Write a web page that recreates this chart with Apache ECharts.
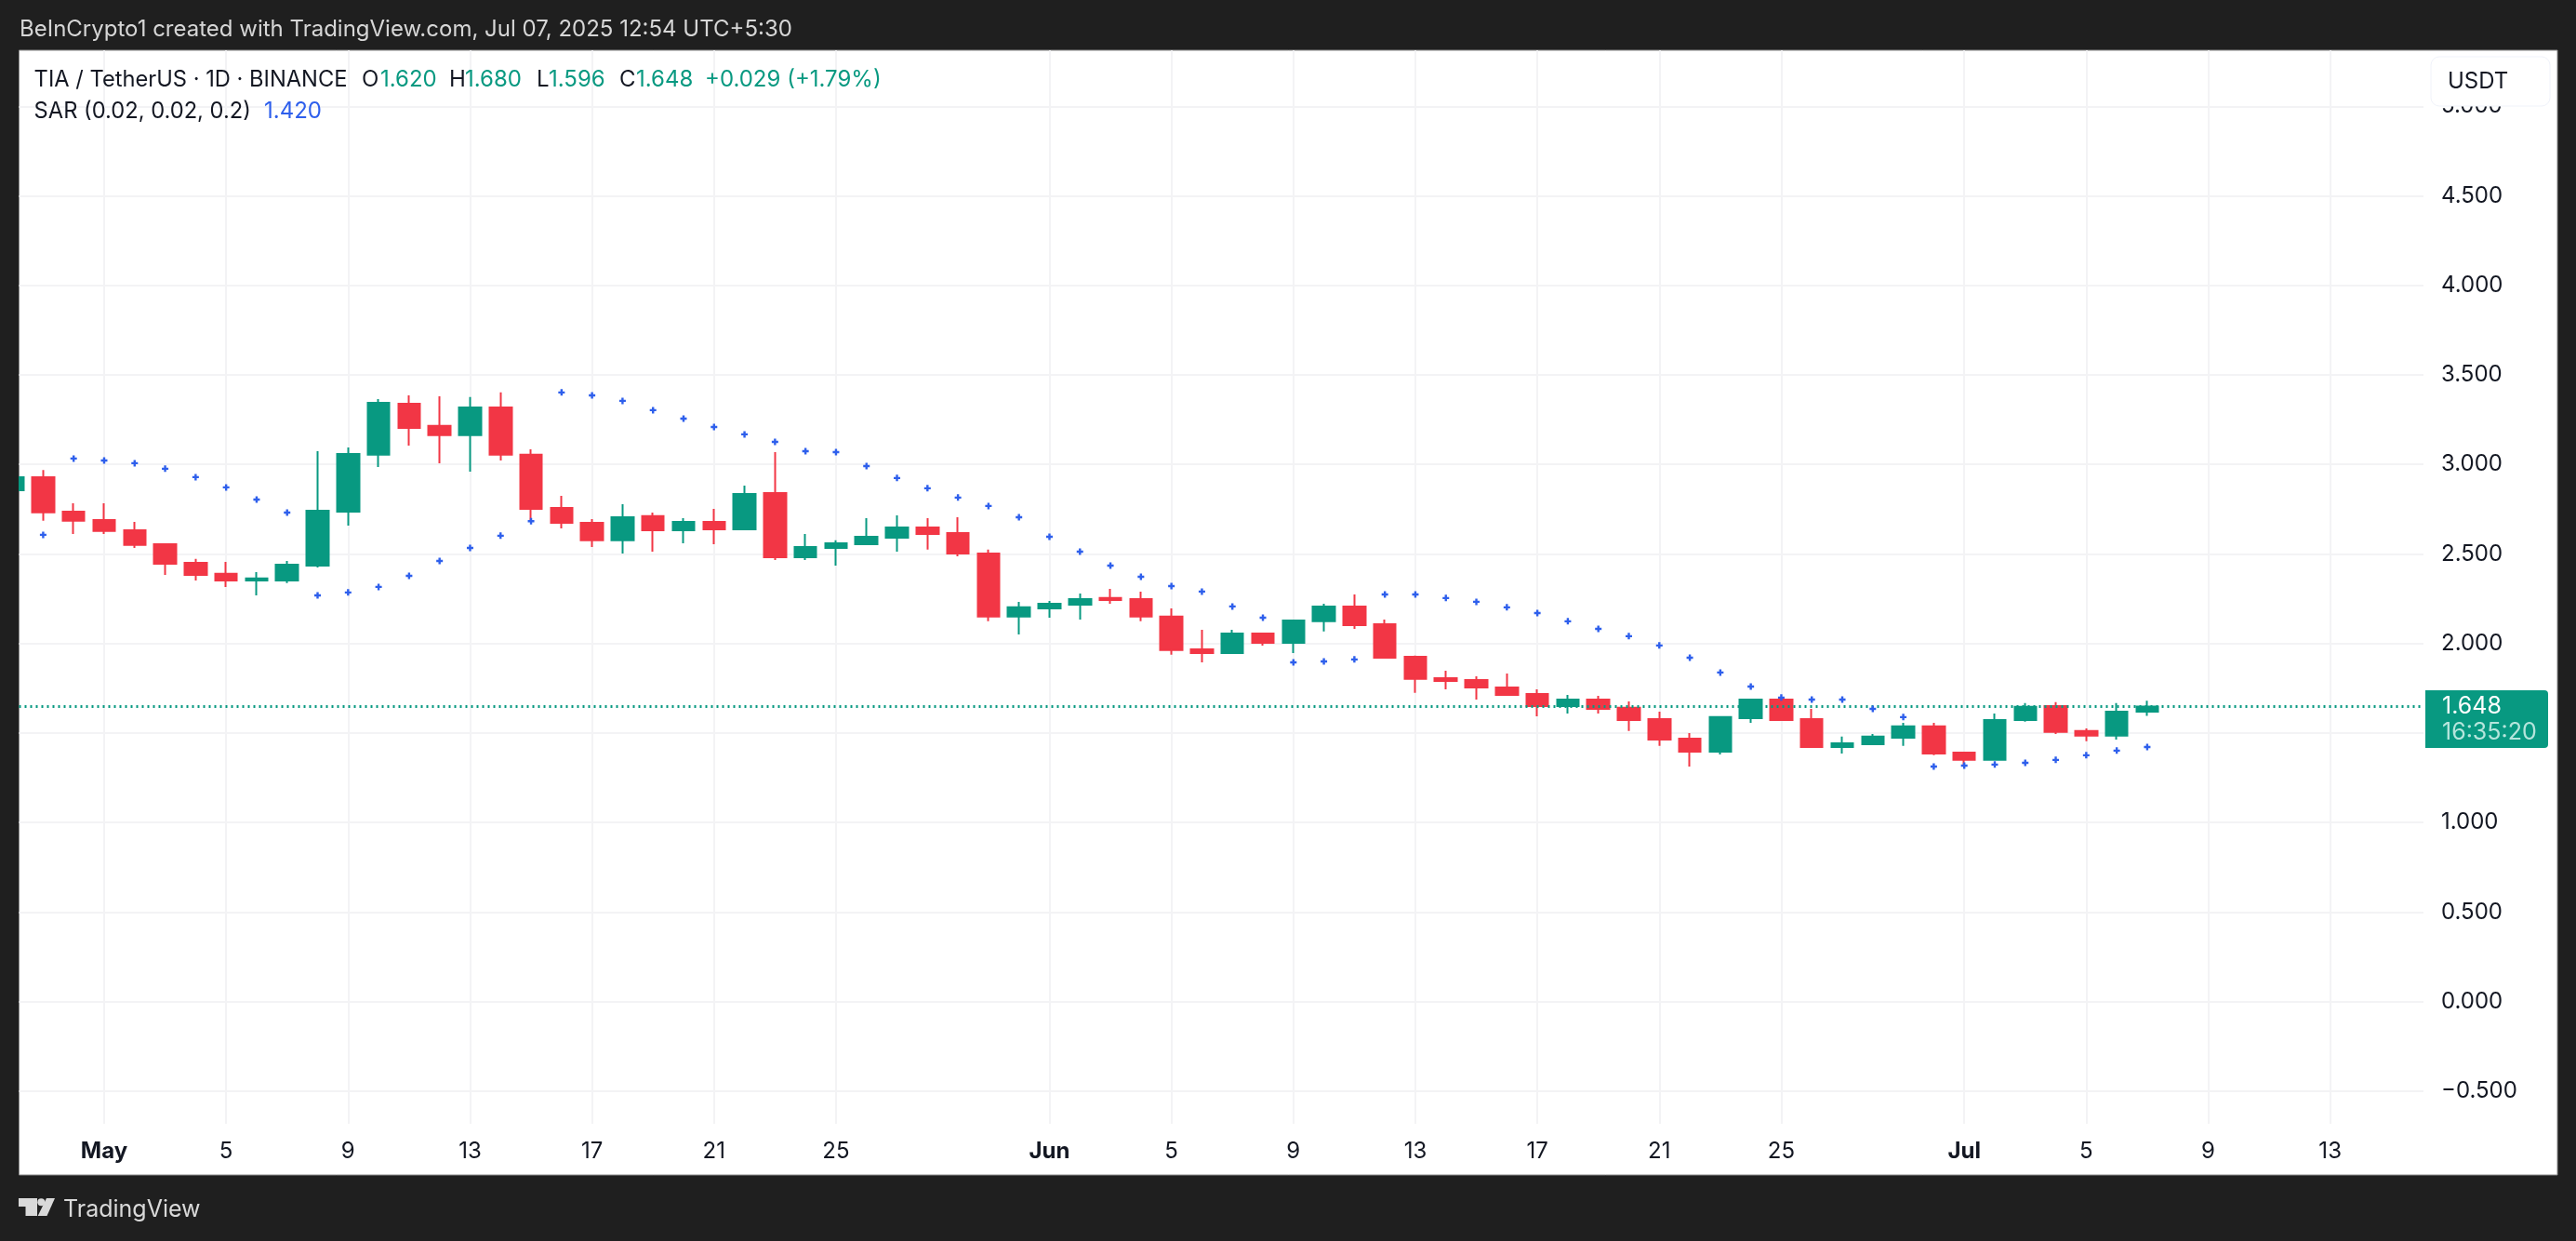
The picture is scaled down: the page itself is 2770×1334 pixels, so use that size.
<!DOCTYPE html>
<html>
<head>
    <meta charset="utf-8">
    <title>TIA / TetherUS</title>
    <script src="https://cdn.jsdelivr.net/npm/echarts@6/dist/echarts.min.js"></script>
    <style>
        html, body { margin: 0; padding: 0; background: #1f1f1f; }
    </style>
</head>
<body>
<div id="main" style="width: 2770px;height:1334px;"></div>
<script type="text/javascript">

    // day number counted from May 1
    let days = [];
    for (let d = -3; d <= 67; d++) days.push(d);

    // one row per day, Apr 28 .. Jul 7
    let opens = [2.856, 2.929, 2.736, 2.690, 2.633, 2.555, 2.451, 2.389, 2.352, 2.352, 2.435, 2.736, 3.054, 3.339, 3.215, 3.163, 3.318, 3.054, 2.757, 2.674, 2.576, 2.711, 2.633, 2.679, 2.638, 2.840, 2.482, 2.534, 2.555, 2.591, 2.648, 2.617, 2.503, 2.150, 2.196, 2.217, 2.254, 2.248, 2.150, 1.968, 1.947, 2.056, 2.004, 2.124, 2.207, 2.108, 1.926, 1.807, 1.796, 1.755, 1.718, 1.651, 1.687, 1.641, 1.578, 1.469, 1.396, 1.583, 1.687, 1.578, 1.422, 1.438, 1.474, 1.537, 1.391, 1.350, 1.573, 1.651, 1.511, 1.485, 1.620];
    let closes = [2.929, 2.733, 2.685, 2.628, 2.550, 2.446, 2.383, 2.352, 2.363, 2.440, 2.742, 3.059, 3.344, 3.204, 3.163, 3.318, 3.054, 2.752, 2.674, 2.576, 2.705, 2.633, 2.679, 2.638, 2.835, 2.482, 2.539, 2.560, 2.596, 2.648, 2.612, 2.503, 2.150, 2.202, 2.222, 2.248, 2.243, 2.150, 1.963, 1.947, 2.056, 2.004, 2.129, 2.207, 2.103, 1.921, 1.802, 1.791, 1.755, 1.713, 1.651, 1.687, 1.635, 1.573, 1.464, 1.396, 1.589, 1.687, 1.573, 1.422, 1.443, 1.480, 1.537, 1.386, 1.350, 1.573, 1.646, 1.506, 1.485, 1.620, 1.648];
    let lows = [2.850, 2.685, 2.612, 2.612, 2.534, 2.383, 2.352, 2.316, 2.269, 2.337, 2.425, 2.659, 2.986, 3.105, 3.007, 2.960, 3.022, 2.685, 2.643, 2.539, 2.503, 2.513, 2.560, 2.555, 2.638, 2.466, 2.466, 2.435, 2.550, 2.513, 2.524, 2.487, 2.124, 2.051, 2.144, 2.134, 2.222, 2.124, 1.937, 1.895, 1.947, 1.988, 1.947, 2.067, 2.082, 1.921, 1.724, 1.744, 1.687, 1.713, 1.594, 1.609, 1.609, 1.511, 1.428, 1.313, 1.381, 1.557, 1.573, 1.422, 1.386, 1.433, 1.428, 1.376, 1.318, 1.345, 1.563, 1.495, 1.454, 1.464, 1.596];
    let highs = [2.940, 2.969, 2.783, 2.783, 2.679, 2.560, 2.472, 2.456, 2.399, 2.461, 3.074, 3.095, 3.365, 3.386, 3.381, 3.376, 3.402, 3.085, 2.825, 2.695, 2.778, 2.731, 2.700, 2.752, 2.882, 3.069, 2.612, 2.576, 2.700, 2.716, 2.700, 2.705, 2.524, 2.233, 2.238, 2.279, 2.305, 2.290, 2.196, 2.077, 2.077, 2.061, 2.134, 2.222, 2.274, 2.134, 1.932, 1.848, 1.817, 1.833, 1.744, 1.713, 1.708, 1.677, 1.620, 1.500, 1.594, 1.690, 1.698, 1.635, 1.480, 1.495, 1.557, 1.557, 1.396, 1.609, 1.667, 1.672, 1.526, 1.667, 1.680];

    // parabolic SAR, Apr 29 .. Jul 7
    let sarDays = [];
    for (let d = -2; d <= 67; d++) sarDays.push(d);
    let sarValues = [2.607, 3.033, 3.022, 3.007, 2.976, 2.929, 2.872, 2.804, 2.731, 2.269, 2.285, 2.316, 2.378, 2.461, 2.534, 2.602, 2.683, 3.402, 3.386, 3.355, 3.303, 3.256, 3.209, 3.168, 3.126, 3.074, 3.069, 2.991, 2.924, 2.867, 2.815, 2.768, 2.705, 2.596, 2.513, 2.435, 2.373, 2.321, 2.290, 2.207, 2.144, 1.895, 1.900, 1.911, 2.274, 2.274, 2.254, 2.233, 2.202, 2.170, 2.124, 2.082, 2.041, 1.989, 1.921, 1.838, 1.760, 1.698, 1.687, 1.687, 1.635, 1.589, 1.313, 1.318, 1.324, 1.334, 1.350, 1.376, 1.402, 1.422];

    // axis ticks
    let xTickDays = [0, 4, 8, 12, 16, 20, 24, 31, 35, 39, 43, 47, 51, 55, 61, 65, 69, 73];
    let xTickLabels = ['May', '5', '9', '13', '17', '21', '25', 'Jun', '5', '9', '13', '17', '21', '25', 'Jul', '5', '9', '13'];
    let yTicks = [-0.5, 0, 0.5, 1, 1.5, 2, 2.5, 3, 3.5, 4, 4.5, 5];

    let lastPrice = 1.648;

    let green = '#089981';
    let red = '#F23645';
    let blue = '#2E5FEC';
    let font = 'Inter';

    function txt(x, y, text, color, size, weight, fontFamily) {
        return {
            type: 'text',
            z: 60,
            x: x,
            y: y,
            style: {
                text: text,
                fill: color,
                font: (weight || 'normal') + ' ' + (size || 24) + 'px ' + (fontFamily || font),
                verticalAlign: 'middle'
            }
        };
    }

    option = {
        backgroundColor: '#1f1f1f',
        animation: false,
        grid: { left: 20.5, top: 54, right: 164, bottom: 126 },
        xAxis: {
            type: 'value',
            min: -2.79,
            max: 76.06,
            axisLine: { show: false },
            axisTick: { show: false, customValues: xTickDays },
            splitLine: { show: true, lineStyle: { color: '#f3f3f5', width: 2 } },
            axisLabel: {
                customValues: xTickDays,
                margin: 18,
                fontFamily: font,
                fontSize: 24,
                color: '#131722',
                hideOverlap: false,
                showMinLabel: true,
                showMaxLabel: true,
                formatter: function (v) {
                    let s = xTickLabels[xTickDays.indexOf(v)];
                    return isNaN(+s) ? '{m|' + s + '}' : s;
                },
                rich: { m: { fontFamily: font, fontSize: 24, fontWeight: 'bold', color: '#131722' } }
            }
        },
        yAxis: {
            type: 'value',
            position: 'right',
            min: -0.682,
            max: 5.313,
            axisLine: { show: false },
            axisTick: { show: false, customValues: yTicks },
            splitLine: { show: true, lineStyle: { color: '#f3f3f5', width: 2 } },
            axisLabel: {
                customValues: yTicks,
                margin: 19,
                fontFamily: font,
                fontSize: 24,
                color: '#131722',
                formatter: function (v) {
                    return (v < 0 ? '\u2212' : '') + Math.abs(v).toFixed(3);
                }
            }
        },
        series: [
            {
                name: 'TIA',
                type: 'candlestick',
                barWidth: 24,
                itemStyle: {
                    color: green,
                    color0: red,
                    borderColor: green,
                    borderColor0: red,
                    borderWidth: 2
                },
                data: days.map(function (d, i) {
                    return [d, opens[i], closes[i], lows[i], highs[i]];
                }),
                markLine: {
                    silent: true,
                    symbol: 'none',
                    label: { show: false },
                    lineStyle: { color: green, width: 3, type: [2, 4], opacity: 1 },
                    data: [{ yAxis: lastPrice }]
                }
            },
            {
                name: 'SAR',
                type: 'scatter',
                symbol: 'path://M2.3 0H4.7V2.3H7V4.7H4.7V7H2.3V4.7H0V2.3H2.3Z',
                symbolSize: 7,
                itemStyle: { color: blue, opacity: 1 },
                z: 5,
                data: sarDays.map(function (d, i) {
                    return [d, sarValues[i]];
                })
            }
        ],
        graphic: [
            // white panel behind the grid
            { type: 'rect', z: -10, silent: true, shape: { x: 20.5, y: 54, width: 2729.5, height: 1209 }, style: { fill: '#ffffff', stroke: '#8c8c8c', lineWidth: 1 } },
            // left edge, hides the part of the first candle outside the panel
            { type: 'rect', z: 50, silent: true, shape: { x: 0, y: 54, width: 20, height: 1209 }, style: { fill: '#1f1f1f' } },
            // top bar
            txt(21, 32, 'BeInCrypto1 created with TradingView.com, Jul 07, 2025 12:54 UTC+5:30', '#d6d6d6', 24),
            // legend
            txt(36.6, 86, 'TIA / TetherUS \u00b7 1D \u00b7 BINANCE', '#131722', 23.7),
            txt(389, 86, 'O', '#131722'), txt(409, 86, '1.620', green),
            txt(483, 86, 'H', '#131722'), txt(500, 86, '1.680', green),
            txt(577, 86, 'L', '#131722'), txt(590, 86, '1.596', green),
            txt(666, 86, 'C', '#131722'), txt(684, 86, '1.648', green),
            txt(758, 86, '+0.029 (+1.79%)', green),
            txt(36.6, 120, 'SAR (0.02, 0.02, 0.2)', '#131722', 23.7),
            txt(284, 120, '1.420', blue),
            // currency button
            { type: 'rect', z: 55, silent: true, shape: { x: 2614, y: 61, width: 128, height: 53, r: 9 }, style: { fill: '#ffffff', stroke: '#f0f3fa', lineWidth: 1 } },
            txt(2632, 88, 'USDT', '#131722'),
            // last price tag
            { type: 'rect', z: 55, silent: true, shape: { x: 2608, y: 742, width: 132, height: 62, r: [0, 4, 4, 0] }, style: { fill: green } },
            txt(2626, 759, '1.648', '#ffffff', 25),
            txt(2626, 787, '16:35:20', '#b5e5dc', 25),
            // footer logo and name
            { type: 'polygon', z: 60, silent: true, shape: { points: [[20, 1288], [40, 1288], [40, 1307], [27.5, 1307], [27.5, 1297], [20, 1297]] }, style: { fill: '#d9d9d9' } },
            { type: 'circle', z: 60, silent: true, shape: { cx: 44.3, cy: 1292.3, r: 4 }, style: { fill: '#d9d9d9' } },
            { type: 'polygon', z: 60, silent: true, shape: { points: [[50, 1288], [59, 1288], [50.5, 1307], [40.7, 1307]] }, style: { fill: '#d9d9d9' } },
            txt(68, 1300, 'TradingView', '#d9d9d9', 25)
        ]
    };

    let myChart = echarts.init(document.getElementById('main'));
    myChart.setOption(option);
</script>
</body>
</html>
